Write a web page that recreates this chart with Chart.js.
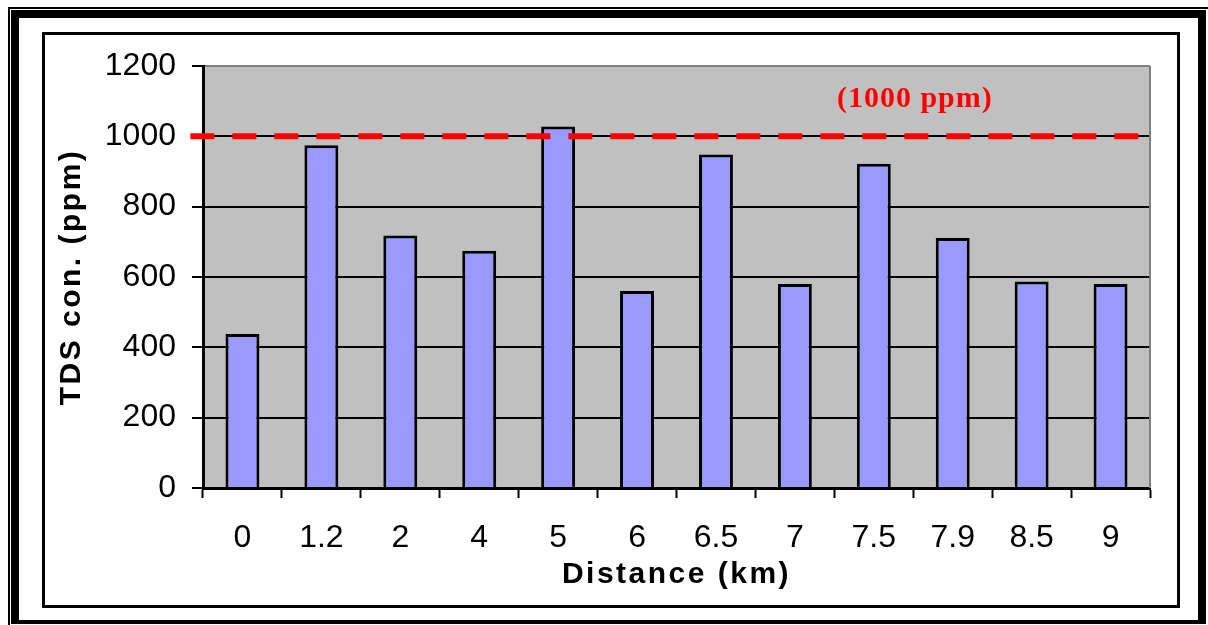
<!DOCTYPE html>
<html>
<head>
<meta charset="utf-8">
<script src="https://cdn.jsdelivr.net/npm/chart.js@4.4.1/dist/chart.umd.min.js"></script>
<style>
  html, body { margin: 0; padding: 0; background: #fff; }
  #wrap { position: relative; width: 1208px; height: 625px; }
</style>
</head>
<body>
<div id="wrap"><canvas id="c"></canvas></div>
<script>
// Sampling distances along the route (km) and measured TDS concentration (ppm)
const distances = ['0', '1.2', '2', '4', '5', '6', '6.5', '7', '7.5', '7.9', '8.5', '9'];
const tdsValues = [438, 975, 718, 675, 1028, 560, 948, 580, 922, 711, 587, 580];

// Permissible limit shown as a dashed reference line
const limitValue = 1000;
const limitLabel = '(1000 ppm)';
const limitSpan = [-0.16, 11.87];   // extent of the limit line in category units

const yTicks = [0, 200, 400, 600, 800, 1000, 1200];

const xTitle = 'Distance (km)';
const yTitle = 'TDS con. (ppm)';

// Page frame, plot background and plot edges
const framePlugin = {
  id: 'frame',
  beforeDraw(chart) {
    const { ctx, chartArea: a } = chart;
    const W = chart.width, H = chart.height;
    ctx.save();
    ctx.fillStyle = '#ffffff';
    ctx.fillRect(0, 0, W, H);
    // outer thin rule
    ctx.fillStyle = '#000';
    ctx.fillRect(8, 7, W - 8, 2);
    ctx.fillRect(8, 7, 2, H - 7);
    // heavy frame
    ctx.fillRect(11, 10, 1195, 8);
    ctx.fillRect(11, 10, 8, 614);
    ctx.fillRect(1198, 10, 8, 614);
    ctx.fillRect(11, 620, 1195, 4);
    // inner box
    ctx.lineWidth = 3;
    ctx.strokeStyle = '#000';
    ctx.strokeRect(43.5, 33.5, 1135, 573);
    // plot background
    ctx.fillStyle = '#C0C0C0';
    ctx.fillRect(a.left, a.top, a.right - a.left, a.bottom - a.top);
    ctx.restore();
  },
  afterDatasetsDraw(chart) {
    const { ctx, chartArea: a } = chart;
    ctx.save();
    ctx.strokeStyle = '#808080';
    ctx.lineWidth = 2;
    ctx.beginPath();
    ctx.moveTo(a.right, a.top);
    ctx.lineTo(a.right, a.bottom);
    ctx.stroke();
    // limit annotation
    const xs = chart.scales.xl, ys = chart.scales.y;
    ctx.fillStyle = '#FF0000';
    ctx.font = 'bold 30px "Liberation Serif", "Times New Roman", serif';
    ctx.letterSpacing = '1px';
    ctx.textAlign = 'center';
    ctx.textBaseline = 'middle';
    ctx.fillText(limitLabel, xs.getPixelForValue(9.02), ys.getPixelForValue(1105));
    ctx.restore();
  }
};

// Slightly spaced axis titles
const spacedTitles = {
  id: 'spacedTitles',
  beforeDraw(chart) {
    Object.values(chart.scales).forEach(s => {
      if (s._spacedTitle) return;
      const orig = s.drawTitle;
      s.drawTitle = function () {
        const c = this.ctx;
        c.save();
        c.letterSpacing = '2.5px';
        orig.call(this);
        c.restore();
      };
      s._spacedTitle = true;
    });
  }
};

const tickFont = { family: '"Liberation Sans", Arial, sans-serif', size: 32 };
const titleFont = { family: '"Liberation Sans", Arial, sans-serif', size: 30, weight: 'bold' };

new Chart(document.getElementById('c'), {
  type: 'bar',
  data: {
    labels: distances,
    datasets: [
      {
        type: 'line',
        data: limitSpan.map(x => ({ x, y: limitValue })),
        xAxisID: 'xl',
        borderColor: '#FF0000',
        borderWidth: 6,
        borderDash: [24, 18],
        pointRadius: 0,
        fill: false,
        clip: false,
        order: 0
      },
      {
        type: 'bar',
        data: tdsValues,
        backgroundColor: '#9999FF',
        borderColor: '#000000',
        borderWidth: 3,
        barPercentage: 0.43,
        categoryPercentage: 1.0,
        grouped: false,
        order: 1
      }
    ]
  },
  options: {
    responsive: true,
    maintainAspectRatio: false,
    animation: false,
    layout: { padding: { left: 50, right: 58, top: 66, bottom: 20 } },
    plugins: { legend: { display: false }, tooltip: { enabled: false } },
    scales: {
      x: {
        type: 'category',
        position: 'bottom',
        grid: {
          offset: true,
          drawOnChartArea: false,
          drawTicks: true,
          tickLength: 10,
          tickColor: '#000',
          tickWidth: 2
        },
        border: { display: true, color: '#000', width: 3 },
        ticks: { color: '#000', font: tickFont, padding: 21, maxRotation: 0, autoSkip: false },
        title: { display: true, text: xTitle, color: '#000', font: titleFont, padding: { top: 0, bottom: 12 } },
        afterFit(s) { s.height = 117; }
      },
      xl: {
        type: 'linear',
        display: false,
        min: 0,
        max: distances.length,
        offset: false
      },
      y: {
        min: 0,
        max: 1200,
        grid: {
          color: ctx => (ctx.tick && ctx.tick.value === 1200 ? '#808080' : '#000'),
          lineWidth: 2,
          tickLength: 11,
          tickColor: '#000',
          tickWidth: 2
        },
        border: { display: true, color: '#000', width: 3 },
        ticks: { color: '#000', font: tickFont, padding: 16, callback: v => String(v) },
        afterBuildTicks(s) { s.ticks = yTicks.map(v => ({ value: v })); },
        title: { display: true, text: yTitle, color: '#000', font: titleFont, padding: { top: 4, bottom: 0 } },
        afterFit(s) { s.width = 153; }
      }
    }
  },
  plugins: [framePlugin, spacedTitles]
});
</script>
</body>
</html>
